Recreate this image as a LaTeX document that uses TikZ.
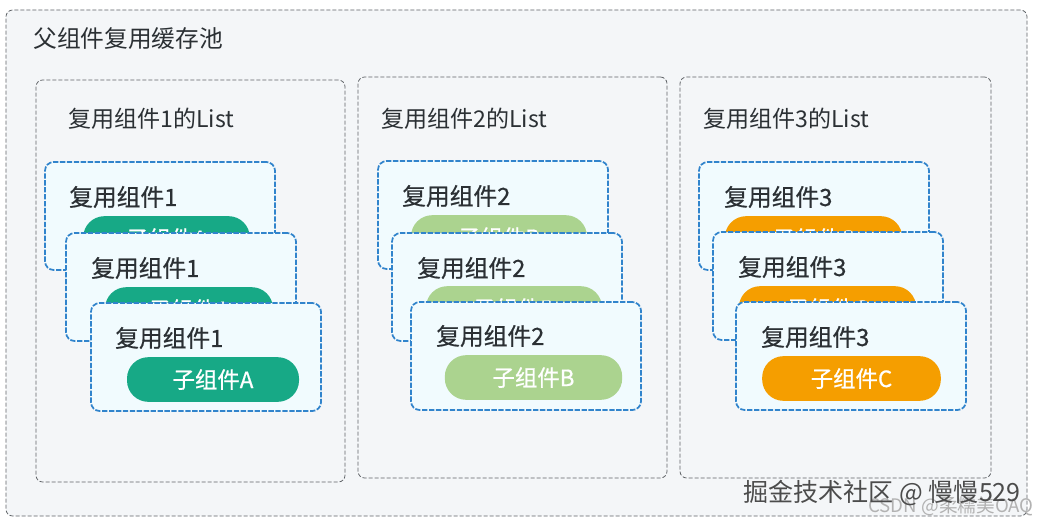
\documentclass[tikz,border=0pt]{standalone}
\usepackage{fontspec}
\setmainfont{Noto Sans CJK SC}
\newfontfamily\medfont[FakeBold=0.7]{Noto Sans CJK SC}
\definecolor{listbg}{HTML}{F4F6F8}
\definecolor{dashgray}{HTML}{5E6266}
\definecolor{cardbg}{HTML}{F1FBFE}
\definecolor{cardline}{HTML}{3184CC}
\definecolor{ink}{HTML}{2B3034}
\definecolor{pilla}{HTML}{17A986}
\definecolor{pillb}{HTML}{ABD38F}
\definecolor{pillc}{HTML}{F59E00}
\tikzset{
  x=0.75pt,y=-0.75pt,
  box/.style={anchor=north west,inner sep=0pt,outer sep=0pt,draw=dashgray,line width=0.6pt,dash pattern=on 3pt off 1.5pt,fill=listbg,rounded corners=5pt},
  cardbox/.style={anchor=north west,inner sep=0pt,outer sep=0pt,draw=cardline,line width=1.3pt,dash pattern=on 4pt off 1.2pt,fill=cardbg,rounded corners=6.5pt,minimum width=172.5pt,minimum height=81pt},
  pill/.style={inner sep=0pt,outer sep=0pt,rounded corners=16pt,text=white,font=\medfont\fontsize{16.8pt}{18pt}\selectfont,minimum height=33.5pt},
  cardtext/.style={anchor=west,inner sep=0pt,text=ink,font=\medfont\fontsize{17.8pt}{19pt}\selectfont},
  title/.style={anchor=west,inner sep=0pt,text=ink,font=\fontsize{17.3pt}{19pt}\selectfont},
  toptitle/.style={anchor=west,inner sep=0pt,text=ink,font=\fontsize{17.8pt}{19pt}\selectfont},
  mark1/.style={anchor=east,inner sep=0pt,text=black!70,font=\fontsize{18.8pt}{20pt}\selectfont},
  mark2/.style={anchor=east,inner sep=0pt,text=black!30,font=\fontsize{14pt}{15pt}\selectfont}
}
\begin{document}
\begin{tikzpicture}
\useasboundingbox (0,0) rectangle (1037,524);
\fill[white] (0,0) rectangle (1037,524);
\node[box,minimum width=765.75pt,minimum height=379.5pt] (outer) at (6,10) {};
\node[toptitle] (outert) at (33,39) {父组件复用缓存池};
\node[box,minimum width=231.75pt,minimum height=301.5pt] (list1) at (36,80) {};
\node[box,minimum width=231.75pt,minimum height=300.75pt] (list2) at (358,77) {};
\node[box,minimum width=233.25pt,minimum height=300.75pt] (list3) at (680,77) {};
\node[title] (list1t) at (68,119) {复用组件1的List};
\node[title] (list2t) at (381,119) {复用组件2的List};
\node[title] (list3t) at (703,119) {复用组件3的List};
% column 1
\node[cardbox] (a1) at (45,162) {};
\node[cardtext] (a1t) at (69,197) {复用组件1};
\node[pill,fill=pilla,minimum width=125pt] (a1p) at (166.5,238.5) {子组件A};
\node[cardbox] (a2) at (66,233) {};
\node[cardtext] (a2t) at (91,268) {复用组件1};
\node[pill,fill=pilla,minimum width=126pt] (a2p) at (189,309.5) {子组件A};
\node[cardbox] (a3) at (91,303) {};
\node[cardtext] (a3t) at (115,338) {复用组件1};
\node[pill,fill=pilla,minimum width=129pt] (a3p) at (213,379.5) {子组件A};
% column 2
\node[cardbox] (b1) at (378,161) {};
\node[cardtext] (b1t) at (402,196) {复用组件2};
\node[pill,fill=pillb,minimum width=132pt] (b1p) at (499,237.5) {子组件B};
\node[cardbox] (b2) at (392,233) {};
\node[cardtext] (b2t) at (417,268) {复用组件2};
\node[pill,fill=pillb,minimum width=132pt] (b2p) at (514,308.5) {子组件B};
\node[cardbox] (b3) at (411,302) {};
\node[cardtext] (b3t) at (436,336) {复用组件2};
\node[pill,fill=pillb,minimum width=133pt] (b3p) at (533.5,377.5) {子组件B};
% column 3
\node[cardbox] (c1) at (699,162) {};
\node[cardtext] (c1t) at (724,197) {复用组件3};
\node[pill,fill=pillc,minimum width=133pt] (c1p) at (813.5,238.5) {子组件C};
\node[cardbox] (c2) at (713,232) {};
\node[cardtext] (c2t) at (738,267) {复用组件3};
\node[pill,fill=pillc,minimum width=133pt] (c2p) at (827.5,308.5) {子组件C};
\node[cardbox] (c3) at (736,302) {};
\node[cardtext] (c3t) at (761,337) {复用组件3};
\node[pill,fill=pillc,minimum width=134pt] (c3p) at (851.5,378.5) {子组件C};
% watermarks
\node[mark2] (wm2) at (1034,506) {CSDN @柔糯美OAQ};
\node[mark1] (wm1) at (1021,493) {掘金技术社区 @ 慢慢529};
\end{tikzpicture}
\end{document}
